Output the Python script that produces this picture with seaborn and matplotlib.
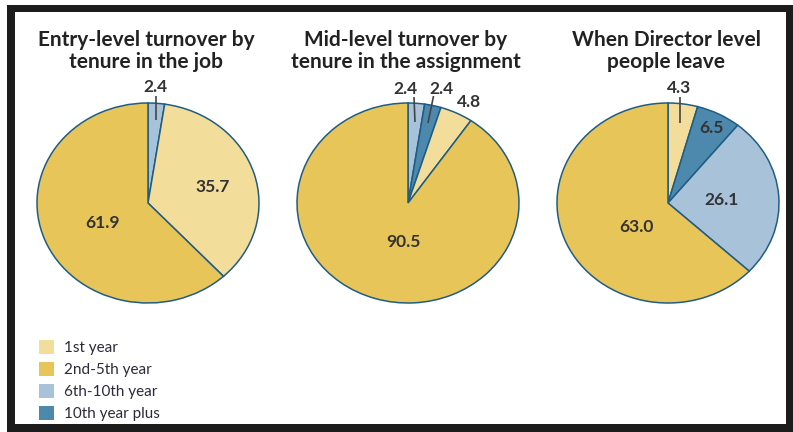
import matplotlib
matplotlib.use("Agg")
import matplotlib.pyplot as plt
from matplotlib.patches import Rectangle, Patch
import seaborn as sns

sns.set_theme(style="white")
plt.rcParams['font.family'] = ['Lato', 'DejaVu Sans']

# ---- data ----
categories = ["1st year", "2nd-5th year", "6th-10th year", "10th year plus"]
titles = ["Entry-level turnover by\ntenure in the job",
          "Mid-level turnover by\ntenure in the assignment",
          "When Director level\npeople leave"]
# slices listed clockwise from 12 o'clock
entry_cats = ["6th-10th year", "1st year", "2nd-5th year"]
entry_vals = [2.4, 35.7, 61.9]
mid_cats = ["6th-10th year", "10th year plus", "1st year", "2nd-5th year"]
mid_vals = [2.4, 2.4, 4.8, 90.5]
dir_cats = ["1st year", "10th year plus", "6th-10th year", "2nd-5th year"]
dir_vals = [4.3, 6.5, 26.1, 63.0]

palette = dict(zip(categories, sns.color_palette(
    ["#f2dd9b", "#e8c558", "#a8c2da", "#4d89ad"])))
edge = "#1f5d84"
txt = "#333333"

# label layout (axes data coords, radius 1 = pie edge)
entry_lab = [(0.07, 1.16), (0.58, 0.16), (-0.41, -0.20)]
entry_lead = [((0.07, 1.07), (0.07, 0.83)), None, None]
mid_lab = [(-0.02, 1.14), (0.30, 1.14), (0.55, 1.01), (-0.045, -0.39)]
mid_lead = [((0.054, 1.06), (0.063, 0.81)), ((0.23, 1.07), (0.18, 0.80)), None, None]
dir_lab = [(0.10, 1.15), (0.39, 0.75), (0.48, 0.03), (-0.28, -0.24)]
dir_lead = [((0.11, 1.06), (0.11, 0.80)), None, None, None]

W, H = 793, 432
fig = plt.figure(figsize=(W / 100, H / 100), dpi=100)

def fx(px):
    return px / W

def fy(py):
    return 1 - py / H

rx, ry = 111, 100
cy = 203
centers = [148, 408, 668]
m = 1.25
pies = [(entry_cats, entry_vals, entry_lab, entry_lead),
        (mid_cats, mid_vals, mid_lab, mid_lead),
        (dir_cats, dir_vals, dir_lab, dir_lead)]

for i, (cats, vals, labs, leads) in enumerate(pies):
    cx = centers[i]
    ax = fig.add_axes([fx(cx - m * rx), fy(cy + m * ry),
                       2 * m * rx / W, 2 * m * ry / H])
    wedges, _ = ax.pie(vals, colors=[palette[c] for c in cats],
                       startangle=90, counterclock=False,
                       wedgeprops=dict(edgecolor=edge, linewidth=1.1))
    ax.set_aspect('auto')
    ax.set_xlim(-m, m)
    ax.set_ylim(-m, m)
    ax.axis('off')
    for v, (lx, ly), ld in zip(vals, labs, leads):
        ax.text(lx, ly, f"{v:.1f}", ha='center', va='center',
                fontsize=12.5, color=txt, fontweight='bold')
        if ld is not None:
            (x0, y0), (x1, y1) = ld
            ax.plot([x0, x1], [y0, y1], color="#444444", lw=1.2,
                    solid_capstyle='butt')
    l1, l2 = titles[i].split("\n")
    fig.text(fx(cx - 2), fy(46), l1, ha='center', va='baseline',
             fontsize=15, fontweight='bold', color="#222222")
    fig.text(fx(cx - 2), fy(68), l2, ha='center', va='baseline',
             fontsize=15, fontweight='bold', color="#222222")

handles = [Patch(facecolor=palette[c], edgecolor='none') for c in categories]
fig.legend(handles, categories, loc='upper left',
           bbox_to_anchor=(fx(33), fy(334)), frameon=False,
           fontsize=11, handlelength=1.0, handleheight=1.0,
           handletextpad=0.6, labelspacing=0.45,
           labelcolor="#2b2b3b", borderaxespad=0)

# black frame
black = "#1c1c1c"
for (x0, y0, w, h) in [(7, 5, W - 7, 7), (7, 5, 8, H - 5),
                       (786, 5, 7, H - 5), (7, 424, W - 7, 8)]:
    fig.patches.append(Rectangle((fx(x0), fy(y0 + h)), w / W, h / H,
                                 transform=fig.transFigure,
                                 facecolor=black, edgecolor='none'))

fig.savefig("out.png", dpi=100)
